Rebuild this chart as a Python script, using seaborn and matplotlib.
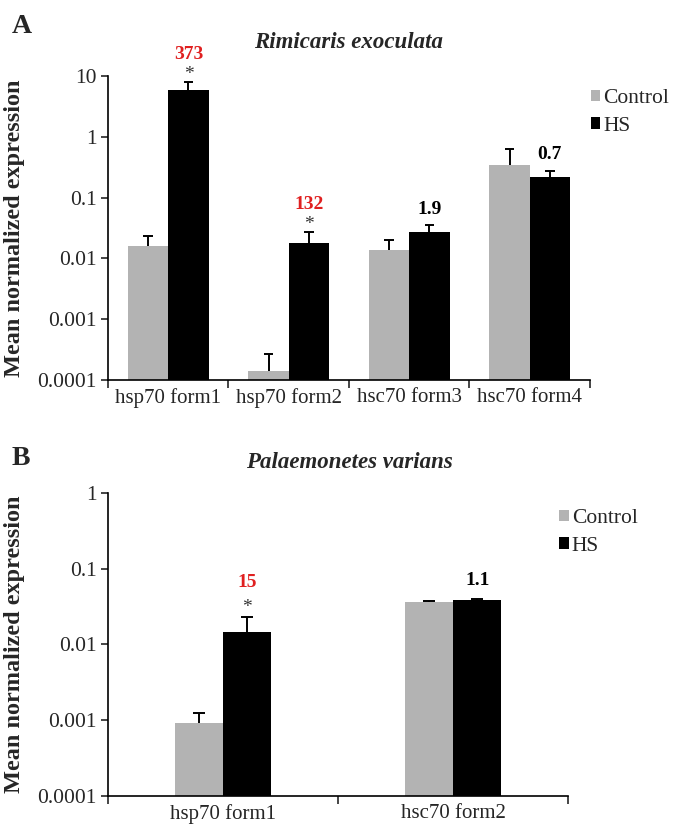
import numpy as np
import pandas as pd
import matplotlib
matplotlib.use("Agg")
import matplotlib.pyplot as plt
import seaborn as sns
from matplotlib.patches import Patch

# values (log scale)
genes_a = ["hsp70 form1", "hsp70 form2", "hsc70 form3", "hsc70 form4"]
ctrl_a = [0.0162, 0.00014, 0.014, 0.35]
ctrl_a_err = [0.0068, 0.00013, 0.0058, 0.28]
hs_a = [5.9, 0.0178, 0.0268, 0.22]
hs_a_err = [2.1, 0.0098, 0.0082, 0.055]
fold_a = ["373", "132", "1.9", "0.7"]
signif_a = [True, True, False, False]

genes_b = ["hsp70 form1", "hsc70 form2"]
ctrl_b = [0.00091, 0.0366]
ctrl_b_err = [0.00034, 0.0009]
hs_b = [0.0147, 0.039]
hs_b_err = [0.0083, 0.0005]
fold_b = ["15", "1.1"]
signif_b = [True, False]

groups = ["Control", "HS"]
palette = {"Control": "#b3b3b3", "HS": "#000000"}

sns.set_style("ticks")
plt.rcParams["font.family"] = ["Liberation Serif", "DejaVu Serif"]


def long_df(genes, ctrl, hs):
    return pd.DataFrame({
        "gene": genes * 2,
        "group": ["Control"] * len(genes) + ["HS"] * len(genes),
        "value": ctrl + hs,
    })


def panel(ax, genes, ctrl, ctrl_err, hs, hs_err, fold, signif, width, ymax,
          ytick_vals, ytick_labels, star_off, num_off, plain_off):
    df = long_df(genes, ctrl, hs)
    ax.set_yscale("log")
    sns.barplot(data=df, x="gene", y="value", hue="group", hue_order=groups,
                palette=palette, width=width, gap=0, errorbar=None,
                saturation=1, linewidth=0, legend=False, ax=ax)
    ax.set_ylim(1e-4, ymax)
    n = len(genes)
    ax.set_xlim(-0.5, n - 0.5)

    # upper-only error bars
    hs_tops = []
    for cont, means, errs in zip(ax.containers, [ctrl, hs], [ctrl_err, hs_err]):
        tops = []
        for bar, m, e in zip(cont, means, errs):
            x = bar.get_x() + bar.get_width() / 2
            cap = bar.get_width() * 0.12
            ax.vlines(x, m, m + e, color="black", lw=1.4, zorder=3)
            ax.hlines(m + e, x - cap, x + cap, color="black", lw=1.4, zorder=3)
            tops.append((x, m + e))
        hs_tops = tops

    # fold-change labels above HS bars
    for (x, top), lab, sig in zip(hs_tops, fold, signif):
        if sig:
            ax.annotate("*", (x, top), xytext=(0, star_off), textcoords="offset pixels",
                        ha="center", va="center", fontsize=14, color="#333333")
            ax.annotate(lab, (x, top), xytext=(0, num_off), textcoords="offset pixels",
                        ha="center", va="center", fontsize=14, color="#e02020",
                        fontweight="bold")
        else:
            ax.annotate(lab, (x, top), xytext=(0, plain_off), textcoords="offset pixels",
                        ha="center", va="center", fontsize=14, color="black",
                        fontweight="bold")

    ax.yaxis.set_major_locator(matplotlib.ticker.FixedLocator(ytick_vals))
    ax.set_yticklabels(ytick_labels)
    ax.yaxis.set_minor_locator(matplotlib.ticker.NullLocator())
    ax.set_xticks(np.arange(n))
    ax.set_xticklabels(genes)
    ax.set_xticks(np.arange(n + 1) - 0.5, minor=True)
    ax.tick_params(axis="x", which="major", length=0, pad=6, labelsize=15)
    ax.tick_params(axis="x", which="minor", length=6, width=1.2, direction="out")
    ax.tick_params(axis="y", which="major", length=5, width=1.2, direction="out",
                   labelsize=15.5, pad=3)
    for s in ["top", "right"]:
        ax.spines[s].set_visible(False)
    for s in ["left", "bottom"]:
        ax.spines[s].set_linewidth(1.2)
        ax.spines[s].set_color("black")
    ax.set_xlabel("")
    ax.set_ylabel("Mean normalized expression", fontsize=17.5, fontweight="bold")


fig = plt.figure(figsize=(6.75, 8.25), dpi=100)
ax_a = fig.add_axes([0.16, 0.5394, 0.714, 0.3685])
ax_b = fig.add_axes([0.16, 0.0352, 0.6815, 0.3672])

panel(ax_a, genes_a, ctrl_a, ctrl_a_err, hs_a, hs_a_err, fold_a, signif_a, 0.67, 10,
      [1e-4, 1e-3, 1e-2, 1e-1, 1, 10], ["0.0001", "0.001", "0.01", "0.1", "1", "10"],
      7, 27, 16)
panel(ax_b, genes_b, ctrl_b, ctrl_b_err, hs_b, hs_b_err, fold_b, signif_b, 0.42, 1,
      [1e-4, 1e-3, 1e-2, 1e-1, 1], ["0.0001", "0.001", "0.01", "0.1", "1"],
      10, 35, 19)
ax_a.yaxis.set_label_coords(-0.172, 0.5)
ax_b.yaxis.set_label_coords(-0.18, 0.5)

handles = [Patch(facecolor=palette[g], edgecolor="none") for g in groups]
for ax, (lx, ly) in [(ax_a, (0.875, 0.892)), (ax_b, (0.828, 0.383))]:
    ax.legend(handles, groups, loc="upper left", bbox_to_anchor=(lx, ly),
              bbox_transform=fig.transFigure, frameon=False, fontsize=15.5,
              handlelength=0.45, handleheight=0.45, handletextpad=0.15,
              labelspacing=0.4, borderaxespad=0, borderpad=0)

fig.text(0.517, 0.949, "Rimicaris exoculata", ha="center", va="center",
         fontsize=16.5, fontweight="bold", fontstyle="italic")
fig.text(0.517, 0.44, "Palaemonetes varians", ha="center", va="center",
         fontsize=16.5, fontweight="bold", fontstyle="italic")
fig.text(0.017, 0.968, "A", ha="left", va="center", fontsize=20, fontweight="bold")
fig.text(0.017, 0.444, "B", ha="left", va="center", fontsize=20, fontweight="bold")

fig.savefig("out.png", dpi=100)
